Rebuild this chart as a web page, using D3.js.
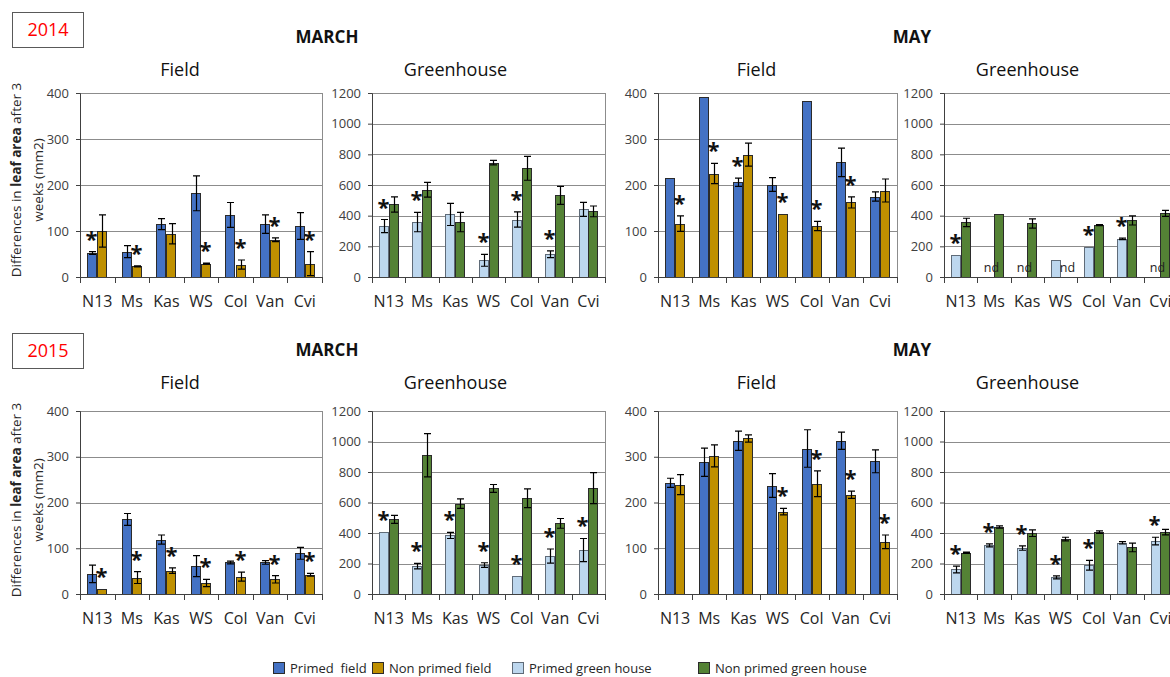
<!DOCTYPE html>
<html>
<head>
<meta charset="utf-8">
<script src="https://cdn.jsdelivr.net/npm/d3@7"></script>
<style>
  body { margin: 0; background: #fff; }
  svg { display: block; font-family: "Open Sans", sans-serif; }
</style>
</head>
<body>
<svg id="chart" width="1170" height="677"></svg>
<script>
// ---- data ----
const categories = ["N13", "Ms", "Kas", "WS", "Col", "Van", "Cvi"];
const seriesNames = ["Primed  field", "Non primed field", "Primed green house", "Non primed green house"];
const years = ["2014", "2015"];
const months = ["MARCH", "MAY"];
const settings = ["Field", "Greenhouse"];
const fieldTicks = [0, 100, 200, 300, 400];
const greenhouseTicks = [0, 200, 400, 600, 800, 1000, 1200];

// 2014 March, field
const mar14PrimedField = [52, 55, 115, 182, 135, 115, 111];
const mar14PrimedFieldErr = [3, 13, 12, 38, 27, 20, 29];
const mar14NonPrimedField = [100, 23, 94, 29, 27, 81, 29];
const mar14NonPrimedFieldErr = [35, 1, 22, 1, 10, 4, 26];
const mar14FieldStars = [0, 1, null, 1, 1, 1, 1];
// 2014 March, greenhouse
const mar14PrimedGH = [332, 358, 408, 109, 375, 148, 441];
const mar14PrimedGHErr = [43, 63, 72, 39, 50, 22, 46];
const mar14NonPrimedGH = [473, 569, 358, 746, 709, 532, 428];
const mar14NonPrimedGHErr = [50, 48, 63, 15, 78, 59, 35];
const mar14GHStars = [0, 0, null, 0, 0, 0, null];
// 2014 May, field
const may14PrimedField = [215, 391, 206, 201, 383, 249, 175];
const may14PrimedFieldErr = [0, 0, 9, 15, 0, 31, 10];
const may14NonPrimedField = [116, 225, 266, 137, 111, 162, 188];
const may14NonPrimedFieldErr = [17, 22, 25, 0, 10, 12, 25];
const may14FieldStars = [1, 1, 0, 1, 1, 1, null];
// 2014 May, greenhouse (null = not determined)
const may14PrimedGH = [146, null, null, 109, 196, 249, null];
const may14PrimedGHErr = [0, 0, 0, 0, 0, 5, 0];
const may14NonPrimedGH = [356, 408, 349, null, 338, 369, 415];
const may14NonPrimedGHErr = [27, 0, 30, 0, 3, 30, 20];
const may14GHStars = [0, null, null, null, 0, 0, null];
// 2015 March, field
const mar15PrimedField = [44, 163, 119, 61, 69, 69, 89];
const mar15PrimedFieldErr = [19, 13, 10, 23, 3, 4, 13];
const mar15NonPrimedField = [12, 36, 51, 24, 38, 32, 42];
const mar15NonPrimedFieldErr = [0, 13, 6, 8, 10, 8, 3];
const mar15FieldStars = [1, 1, 1, 1, 1, 1, 1];
// 2015 March, greenhouse
const mar15PrimedGH = [406, 183, 384, 190, 118, 249, 288];
const mar15PrimedGHErr = [0, 18, 20, 15, 0, 46, 76];
const mar15NonPrimedGH = [489, 910, 593, 692, 628, 463, 694];
const mar15NonPrimedGHErr = [26, 142, 31, 26, 61, 32, 102];
const mar15GHStars = [0, 0, 0, 0, 0, 0, 0];
// 2015 May, field
const may15PrimedField = [243, 288, 335, 237, 318, 335, 290];
const may15PrimedFieldErr = [10, 31, 21, 26, 41, 19, 25];
const may15NonPrimedField = [239, 302, 340, 180, 241, 217, 114];
const may15NonPrimedFieldErr = [22, 24, 8, 7, 28, 8, 15];
const may15FieldStars = [null, null, null, 1, 1, 1, 1];
// 2015 May, greenhouse
const may15PrimedGH = [161, 319, 301, 109, 188, 336, 347];
const may15PrimedGHErr = [22, 10, 14, 10, 32, 8, 25];
const may15NonPrimedGH = [271, 439, 399, 360, 406, 305, 406];
const may15NonPrimedGHErr = [4, 8, 22, 12, 8, 28, 18];
const may15GHStars = [0, 0, 0, 0, 0, null, 0];

// ---- styling / layout ----
const colors = ["#4472C4", "#BF9000", "#BDD7EE", "#548235"];
const outline = ["#2b2b2b", "#2b2b2b", "#5f6b78", "#2b2b2b"];
const columns = [[80, 322], [372, 605], [658, 897], [944, 1177]];
const rows = [
  { top: 93, bottom: 277, boxY: 12, monthY: 43, settingY: 76, titleY: 180 },
  { top: 411, bottom: 594, boxY: 333, monthY: 356, settingY: 389, titleY: 500 }
];

const panels = [
  { row: 0, col: 0, field: true, a: mar14PrimedField, ae: mar14PrimedFieldErr, b: mar14NonPrimedField, be: mar14NonPrimedFieldErr, stars: mar14FieldStars },
  { row: 0, col: 1, field: false, a: mar14PrimedGH, ae: mar14PrimedGHErr, b: mar14NonPrimedGH, be: mar14NonPrimedGHErr, stars: mar14GHStars },
  { row: 0, col: 2, field: true, a: may14PrimedField, ae: may14PrimedFieldErr, b: may14NonPrimedField, be: may14NonPrimedFieldErr, stars: may14FieldStars },
  { row: 0, col: 3, field: false, a: may14PrimedGH, ae: may14PrimedGHErr, b: may14NonPrimedGH, be: may14NonPrimedGHErr, stars: may14GHStars },
  { row: 1, col: 0, field: true, a: mar15PrimedField, ae: mar15PrimedFieldErr, b: mar15NonPrimedField, be: mar15NonPrimedFieldErr, stars: mar15FieldStars },
  { row: 1, col: 1, field: false, a: mar15PrimedGH, ae: mar15PrimedGHErr, b: mar15NonPrimedGH, be: mar15NonPrimedGHErr, stars: mar15GHStars },
  { row: 1, col: 2, field: true, a: may15PrimedField, ae: may15PrimedFieldErr, b: may15NonPrimedField, be: may15NonPrimedFieldErr, stars: may15FieldStars },
  { row: 1, col: 3, field: false, a: may15PrimedGH, ae: may15PrimedGHErr, b: may15NonPrimedGH, be: may15NonPrimedGHErr, stars: may15GHStars }
];

const svg = d3.select("#chart");

function drawPanel(p) {
  const [x0, x1] = columns[p.col];
  const r = rows[p.row];
  const ticks = p.field ? fieldTicks : greenhouseTicks;
  const g = svg.append("g");
  const x = d3.scaleBand().domain(categories).range([x0, x1]);
  const xs = d3.scaleBand().domain([0, 1]).range([0, x.bandwidth()]).paddingOuter(0.7);
  const y = d3.scaleLinear().domain([0, d3.max(ticks)]).range([r.bottom, r.top]);
  const seriesBase = p.field ? 0 : 2;

  // gridlines and right border
  g.selectAll(".grid").data(ticks.filter(t => t > 0)).join("line")
    .attr("x1", x0).attr("x2", x1)
    .attr("y1", d => Math.round(y(d)) + 0.5).attr("y2", d => Math.round(y(d)) + 0.5)
    .attr("stroke", "#8c8c8c").attr("stroke-width", 1);
  g.append("line").attr("x1", x1 + 0.5).attr("x2", x1 + 0.5)
    .attr("y1", r.top).attr("y2", r.bottom).attr("stroke", "#8c8c8c");

  // bars
  const rowsData = categories.map((c, i) => [
    { c, s: 0, v: p.a[i], e: p.ae[i] },
    { c, s: 1, v: p.b[i], e: p.be[i] }
  ]).flat();
  const shown = rowsData.filter(d => d.v !== null);
  g.selectAll(".bar").data(shown).join("rect")
    .attr("x", d => Math.round(x(d.c) + xs(d.s)) + 0.5)
    .attr("y", d => Math.round(y(d.v)) + 0.5)
    .attr("width", Math.round(xs.bandwidth()) - 1)
    .attr("height", d => Math.round(y(0)) - Math.round(y(d.v)))
    .attr("fill", d => colors[seriesBase + d.s])
    .attr("stroke", d => outline[seriesBase + d.s]).attr("stroke-width", 1);

  // error bars
  const errs = shown.filter(d => d.e > 0);
  const cx = d => Math.round(x(d.c) + xs(d.s) + xs.bandwidth() / 2) + 0.5;
  g.selectAll(".err").data(errs).join("path")
    .attr("d", d => {
      const xc = cx(d), yt = y(d.v + d.e), yb = y(d.v - d.e);
      return `M${xc},${yt}V${yb}M${xc - 3.5},${yt}H${xc + 3.5}M${xc - 3.5},${yb}H${xc + 3.5}`;
    })
    .attr("stroke", "#000").attr("stroke-width", 1.2).attr("fill", "none");

  // significance marks
  const starData = p.stars.map((s, i) => s === null ? null : rowsData[i * 2 + s]).filter(d => d);
  g.selectAll(".star").data(starData).join("text")
    .attr("x", d => cx(d) - 1)
    .attr("y", d => y(d.v + d.e) - 5)
    .attr("text-anchor", "middle")
    .attr("font-size", 22).attr("font-weight", "bold").attr("fill", "#111")
    .text("*");

  // not-determined labels
  g.selectAll(".nd").data(rowsData.filter(d => d.v === null)).join("text")
    .attr("x", d => cx(d) + 2)
    .attr("y", r.bottom - 5)
    .attr("text-anchor", "middle")
    .attr("font-size", 12.5).attr("fill", "#222")
    .text("nd");

  // y axis
  const ya = g.append("g").attr("transform", `translate(${x0},0)`)
    .call(d3.axisLeft(y).tickValues(ticks).tickFormat(d3.format("d")).tickSize(4).tickPadding(7));
  ya.select(".domain").attr("stroke", "#404040");
  ya.selectAll(".tick line").attr("stroke", "#404040");
  ya.selectAll("text").attr("font-size", 13).attr("fill", "#404040").attr("font-family", "Open Sans, sans-serif");

  // x axis
  const xa = g.append("g").attr("transform", `translate(0,${r.bottom})`)
    .call(d3.axisBottom(x).tickSize(0).tickPadding(19));
  xa.select(".domain").remove();
  xa.selectAll("text").attr("font-size", 16).attr("fill", "#262626").attr("font-family", "Open Sans, sans-serif");
  g.append("line").attr("x1", x0).attr("x2", x1)
    .attr("y1", Math.round(y(0)) + 0.5).attr("y2", Math.round(y(0)) + 0.5).attr("stroke", "#404040");
  g.selectAll(".bt").data(d3.range(categories.length + 1)).join("line")
    .attr("x1", i => Math.round(x0 + i * x.step()) + 0.5).attr("x2", i => Math.round(x0 + i * x.step()) + 0.5)
    .attr("y1", r.bottom).attr("y2", r.bottom + 6).attr("stroke", "#404040");

  // setting title
  svg.append("text").attr("x", (x0 + x1) / 2 + (p.field ? -21 : -33)).attr("y", r.settingY)
    .attr("text-anchor", "middle").attr("font-size", 18).attr("fill", "#111")
    .text(settings[p.field ? 0 : 1]);
}

panels.forEach(drawPanel);

// row headings
rows.forEach((r, i) => {
  svg.append("rect").attr("x", 12.5).attr("y", r.boxY + 0.5).attr("width", 71).attr("height", 35)
    .attr("fill", "#fff").attr("stroke", "#595959");
  svg.append("text").attr("x", 48).attr("y", r.boxY + 24).attr("text-anchor", "middle")
    .attr("font-size", 18).attr("fill", "#ff0000").text(years[i]);
  svg.append("text").attr("x", 327).attr("y", r.monthY).attr("text-anchor", "middle")
    .attr("font-size", 17).attr("font-weight", "bold").attr("fill", "#111").text(months[0]);
  svg.append("text").attr("x", 912).attr("y", r.monthY).attr("text-anchor", "middle")
    .attr("font-size", 17).attr("font-weight", "bold").attr("fill", "#111").text(months[1]);

  // y-axis title
  const t = svg.append("text").attr("transform", `translate(21,${r.titleY}) rotate(-90)`)
    .attr("text-anchor", "middle").attr("font-size", 13.5).attr("fill", "#262626");
  t.append("tspan").text("Differences in ");
  t.append("tspan").attr("font-weight", "bold").text("leaf area");
  t.append("tspan").text(" after 3");
  svg.append("text").attr("transform", `translate(43,${r.titleY}) rotate(-90)`)
    .attr("text-anchor", "middle").attr("font-size", 13.5).attr("fill", "#262626")
    .text("weeks (mm2)");
});

// legend
const legendX = [273, 372, 512, 698];
seriesNames.forEach((name, i) => {
  svg.append("rect").attr("x", legendX[i] + 0.5).attr("y", 662.5).attr("width", 11).attr("height", 11)
    .attr("fill", colors[i]).attr("stroke", outline[i]);
  svg.append("text").attr("x", legendX[i] + 17).attr("y", 673)
    .attr("font-size", 13).attr("fill", "#262626").attr("xml:space", "preserve")
    .style("white-space", "pre").text(name);
});
</script>
</body>
</html>
